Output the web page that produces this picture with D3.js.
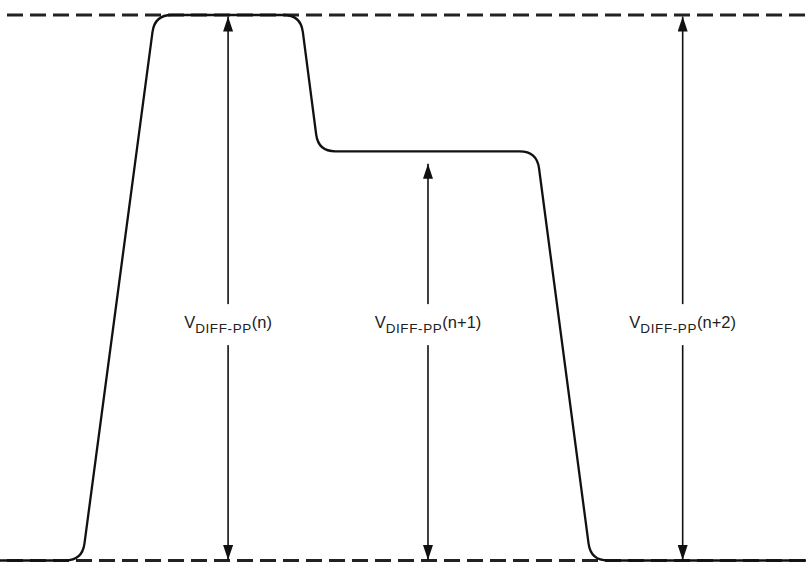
<!DOCTYPE html>
<html>
<head>
<meta charset="utf-8">
<script src="https://cdn.jsdelivr.net/npm/d3@7"></script>
<style>
html,body{margin:0;padding:0;background:#fff;}
svg{display:block;}
</style>
</head>
<body>
<svg id="chart" width="806" height="565"></svg>
<script>
// ---- data ----
const waveTimes  = [0, 10.2, 19.2, 37.3, 39.5, 66.6, 73.3, 100];
const waveLevels = [0, 0, 1, 1, 0.75, 0.75, 0, 0];
const refLevels  = [0, 1];
const arrowTimes = [28.3, 53.1, 84.7];
const arrowFrom  = [0, 0, 0];
const arrowTo    = [1, 0.73, 1];
const labelMain  = ["V", "V", "V"];
const labelSub   = ["DIFF-PP", "DIFF-PP", "DIFF-PP"];
const labelTail  = ["(n)", "(n+1)", "(n+2)"];

// ---- layout ----
const W = 806, H = 565;
const x = d3.scaleLinear().domain([0, 100]).range([0, W]);
const y = d3.scaleLinear().domain([0, 1]).range([560.5, 15]);
const labelLevel = 0.426;
const svg = d3.select("#chart");

const defs = svg.append("defs");
["end","start"].forEach(k => {
  defs.append("marker")
    .attr("id", "arr-" + k)
    .attr("viewBox", "0 0 15 10")
    .attr("refX", 15).attr("refY", 5)
    .attr("markerWidth", 15).attr("markerHeight", 10)
    .attr("markerUnits", "userSpaceOnUse")
    .attr("orient", k === "end" ? "auto" : "auto-start-reverse")
    .append("path")
    .attr("d", "M0,0 L15,5 L0,10 Z")
    .attr("fill", "#111");
});

// dashed reference lines
svg.selectAll("line.ref").data(refLevels).enter().append("line")
  .attr("class", "ref")
  .attr("x1", 7).attr("x2", W)
  .attr("y1", d => y(d)).attr("y2", d => y(d))
  .attr("stroke", "#222").attr("stroke-width", 3.2)
  .attr("stroke-dasharray", "16 7");

// waveform with rounded corners
const pts = waveTimes.map((t, i) => [x(t), y(waveLevels[i])]);
function roundedPath(p, r) {
  const path = d3.path();
  path.moveTo(p[0][0], p[0][1]);
  for (let i = 1; i < p.length - 1; i++) {
    const [px, py] = p[i - 1], [cx, cy] = p[i], [nx, ny] = p[i + 1];
    const l1 = Math.hypot(cx - px, cy - py), l2 = Math.hypot(nx - cx, ny - cy);
    const r1 = Math.min(r, l1 / 2), r2 = Math.min(r, l2 / 2);
    const ax = cx + (px - cx) * r1 / l1, ay = cy + (py - cy) * r1 / l1;
    const bx = cx + (nx - cx) * r2 / l2, by = cy + (ny - cy) * r2 / l2;
    path.lineTo(ax, ay);
    path.quadraticCurveTo(cx, cy, bx, by);
  }
  const last = p[p.length - 1];
  path.lineTo(last[0], last[1]);
  return path.toString();
}
svg.append("path")
  .attr("d", roundedPath(pts, 17))
  .attr("fill", "none")
  .attr("stroke", "#111")
  .attr("stroke-width", 2.3)
  .attr("stroke-linejoin", "round");

// arrows
const arrows = arrowTimes.map((t, i) => ({t, a: arrowFrom[i], b: arrowTo[i], i}));
svg.selectAll("line.arrow").data(arrows).enter().append("line")
  .attr("class", "arrow")
  .attr("x1", d => x(d.t)).attr("x2", d => x(d.t))
  .attr("y1", d => y(d.a) - 0.5).attr("y2", d => y(d.b) + 1.5)
  .attr("stroke", "#111").attr("stroke-width", 1.6)
  .attr("marker-start", "url(#arr-start)")
  .attr("marker-end", "url(#arr-end)");

// labels
const lg = svg.selectAll("g.lab").data(arrows).enter().append("g").attr("class", "lab");
lg.append("rect");
const txt = lg.append("text")
  .attr("x", d => x(d.t))
  .attr("y", y(labelLevel))
  .attr("text-anchor", "middle")
  .attr("font-family", "'Liberation Sans', Arial, sans-serif")
  .attr("font-size", 16.5)
  .attr("fill", "#222");
txt.append("tspan").text(d => labelMain[d.i]);
txt.append("tspan").attr("font-size", 13.5).attr("letter-spacing", 0.6).attr("dy", 5).text(d => labelSub[d.i]);
txt.append("tspan").attr("dy", -5).text(d => labelTail[d.i]);
lg.each(function() {
  const g = d3.select(this);
  const bb = g.select("text").node().getBBox();
  g.select("rect")
    .attr("x", bb.x - 2).attr("width", bb.width + 4)
    .attr("y", y(labelLevel) - 24).attr("height", 41)
    .attr("fill", "#fff");
});
</script>
</body>
</html>
